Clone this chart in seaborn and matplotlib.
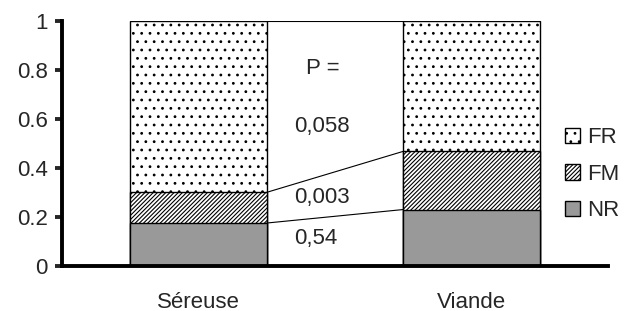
import seaborn as sns
import matplotlib.pyplot as plt
import pandas as pd
from matplotlib.patches import Patch

sns.set_theme(style='white')
plt.rcParams['font.family'] = ['Liberation Sans', 'DejaVu Sans']
plt.rcParams['hatch.linewidth'] = 0.8
plt.rcParams['hatch.color'] = '#333333'

# proportions per group
groups = ["Séreuse", "Viande"]
nr = [0.175, 0.23]
fm = [0.125, 0.237]
fr = [0.70, 0.533]
p_labels = ["P =", "0,058", "0,003", "0,54"]
p_ypos = [0.805, 0.569, 0.28, 0.114]

df = pd.DataFrame({"groupe": groups, "NR": nr, "FM": fm, "FR": fr})
df["top_fm"] = df["NR"] + df["FM"]
df["top_fr"] = df["top_fm"] + df["FR"]

fig = plt.figure(figsize=(6.31, 3.11), dpi=100)
ax = fig.add_axes([0.098, 0.1447, 0.8656, 0.7893])

# stacked bars drawn as overlapping cumulative bars
dots, stripes = "..", "////////"
layers = [("top_fr", "white", dots), ("top_fm", "white", stripes), ("NR", "#999999", None)]
for col, color, hatch in layers:
    sns.barplot(data=df, x="groupe", y=col, color=color, width=0.5, ax=ax,
                edgecolor="black", linewidth=1.0, hatch=hatch, saturation=1)

# connector lines between the bars
for col in ["top_fr", "top_fm", "NR"]:
    ax.plot([0.25, 0.75], df[col].values, color="black", lw=0.8)

for txt, y in zip(p_labels, p_ypos):
    ax.text(0.394 if txt == "P =" else 0.35, y, txt, ha="left", va="center", fontsize=16)

ax.set_xlim(-0.5, 1.5)
ax.set_ylim(0, 1)
ax.set_yticks([0, 0.2, 0.4, 0.6, 0.8, 1])
ax.set_yticklabels(["0", "0.2", "0.4", "0.6", "0.8", "1"])
ax.set_xlabel("")
ax.set_ylabel("")
for s in ["top", "right"]:
    ax.spines[s].set_visible(False)
for s in ["left", "bottom"]:
    ax.spines[s].set_linewidth(2.8)
    ax.spines[s].set_color("black")
ax.tick_params(axis="y", direction="out", length=5, width=2.8, labelsize=16, pad=5, left=True)
ax.tick_params(axis="x", length=0, labelsize=16, pad=19)

handles = [Patch(facecolor="white", edgecolor="black", hatch=dots, label="FR"),
           Patch(facecolor="white", edgecolor="black", hatch=stripes, label="FM"),
           Patch(facecolor="#999999", edgecolor="black", label="NR")]
fig.legend(handles=handles, loc="center left", bbox_to_anchor=(0.895, 0.44), frameon=False,
           fontsize=16, handlelength=0.7, handleheight=0.7, handletextpad=0.3, labelspacing=0.7,
           borderaxespad=0, borderpad=0)

fig.savefig("out.png", dpi=100)
